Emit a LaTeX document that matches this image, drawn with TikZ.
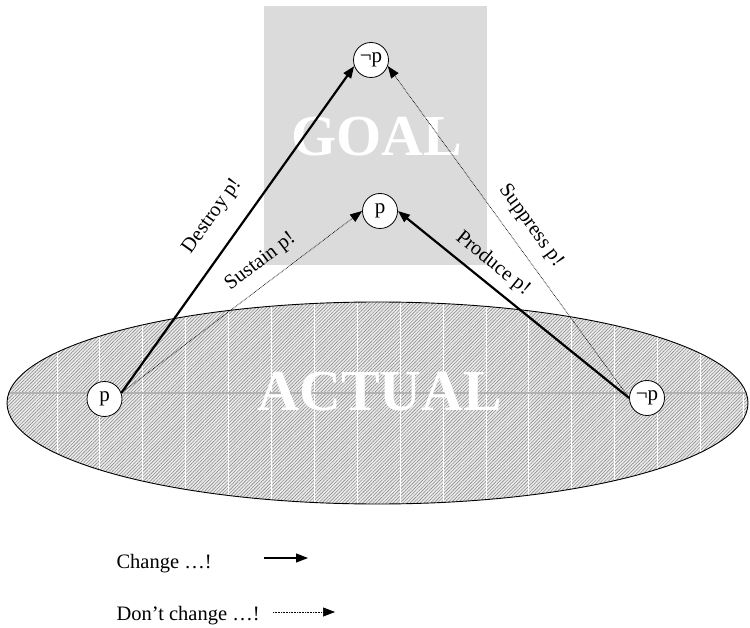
\documentclass[tikz,border=0pt]{standalone}
\usepackage{fontspec}
\setmainfont{Liberation Serif}
\usetikzlibrary{arrows.meta,patterns.meta}

\begin{document}
\begin{tikzpicture}[x=1pt,y=-1pt]
\tikzset{
  statenode/.style={circle,draw,fill=white,line width=0.8pt,minimum size=35pt,inner sep=0pt,font=\fontsize{21}{21}\selectfont},
  change/.style={-{Triangle[length=12pt,width=9pt]},line width=2.2pt},
  keep/.style={-{Triangle[length=12pt,width=9pt]},line width=0.7pt,dash pattern=on 0.7pt off 0.9pt},
  arrowlabel/.style={sloped,font=\fontsize{20.5}{20.5}\selectfont},
  bigword/.style={text=white,font=\fontsize{58}{58}\selectfont\bfseries}
}
\useasboundingbox (0,0) rectangle (750,628);
% goal region
\fill[black!14] (264,6) rectangle (487,265);
\node[bigword] (t_goal) at (377,137) {GOAL};
% actual region
\path[fill=black!8,postaction={pattern={Lines[angle=45,distance=2.4pt,line width=0.6pt]},pattern color=black!45}]
  (377.5,403) ellipse [x radius=370.5,y radius=101];
\begin{scope}
  \clip (377.5,403) ellipse [x radius=370.5,y radius=101];
  \foreach \i in {0,...,16}
    \draw[white,line width=1pt] (57+42.9*\i,300) -- (57+42.9*\i,506);
  \draw[black!30,line width=1pt] (0,393) -- (750,393);
\end{scope}
\draw[line width=0.9pt] (377.5,403) ellipse [x radius=370.5,y radius=101];
\node[bigword] (t_actual) at (380,392) {ACTUAL};
% states
\node[statenode] (n_pA) at (104.50,399.00) {p};
\node[statenode] (n_npA) at (647.00,398.00) {¬p};
\node[statenode] (n_pG) at (380.00,211.00) {p};
\node[statenode] (n_npG) at (371.00,60.00) {¬p};
% transitions
\draw[change] (n_pA.20) -- (n_npG.200) node[arrowlabel,pos=0.49,above=15pt] {Destroy p!};
\draw[keep] (n_pA.20) -- (n_pG.west) node[arrowlabel,pos=0.63,above=8pt] {Sustain p!};
\draw[change] (n_npA.west) -- (n_pG.east) node[arrowlabel,pos=0.64,above=5pt] {Produce p!};
\draw[keep] (n_npA.west) -- (n_npG.-20) node[arrowlabel,pos=0.48,above=9pt] {Suppress p!};
% legend
\node[anchor=base west,font=\fontsize{20.5}{20.5}\selectfont] (l_change) at (113,568) {Change …!};
\node[anchor=base west,font=\fontsize{20.5}{20.5}\selectfont] (l_keep) at (113,620) {Don’t change …!};
\coordinate (c_a) at (264,558);
\coordinate (c_b) at (308,558);
\coordinate (c_c) at (273,612);
\coordinate (c_d) at (335,612);
\draw[change,line width=1.3pt] (c_a) -- (c_b);
\draw[keep] (c_c) -- (c_d);
\end{tikzpicture}
\end{document}
